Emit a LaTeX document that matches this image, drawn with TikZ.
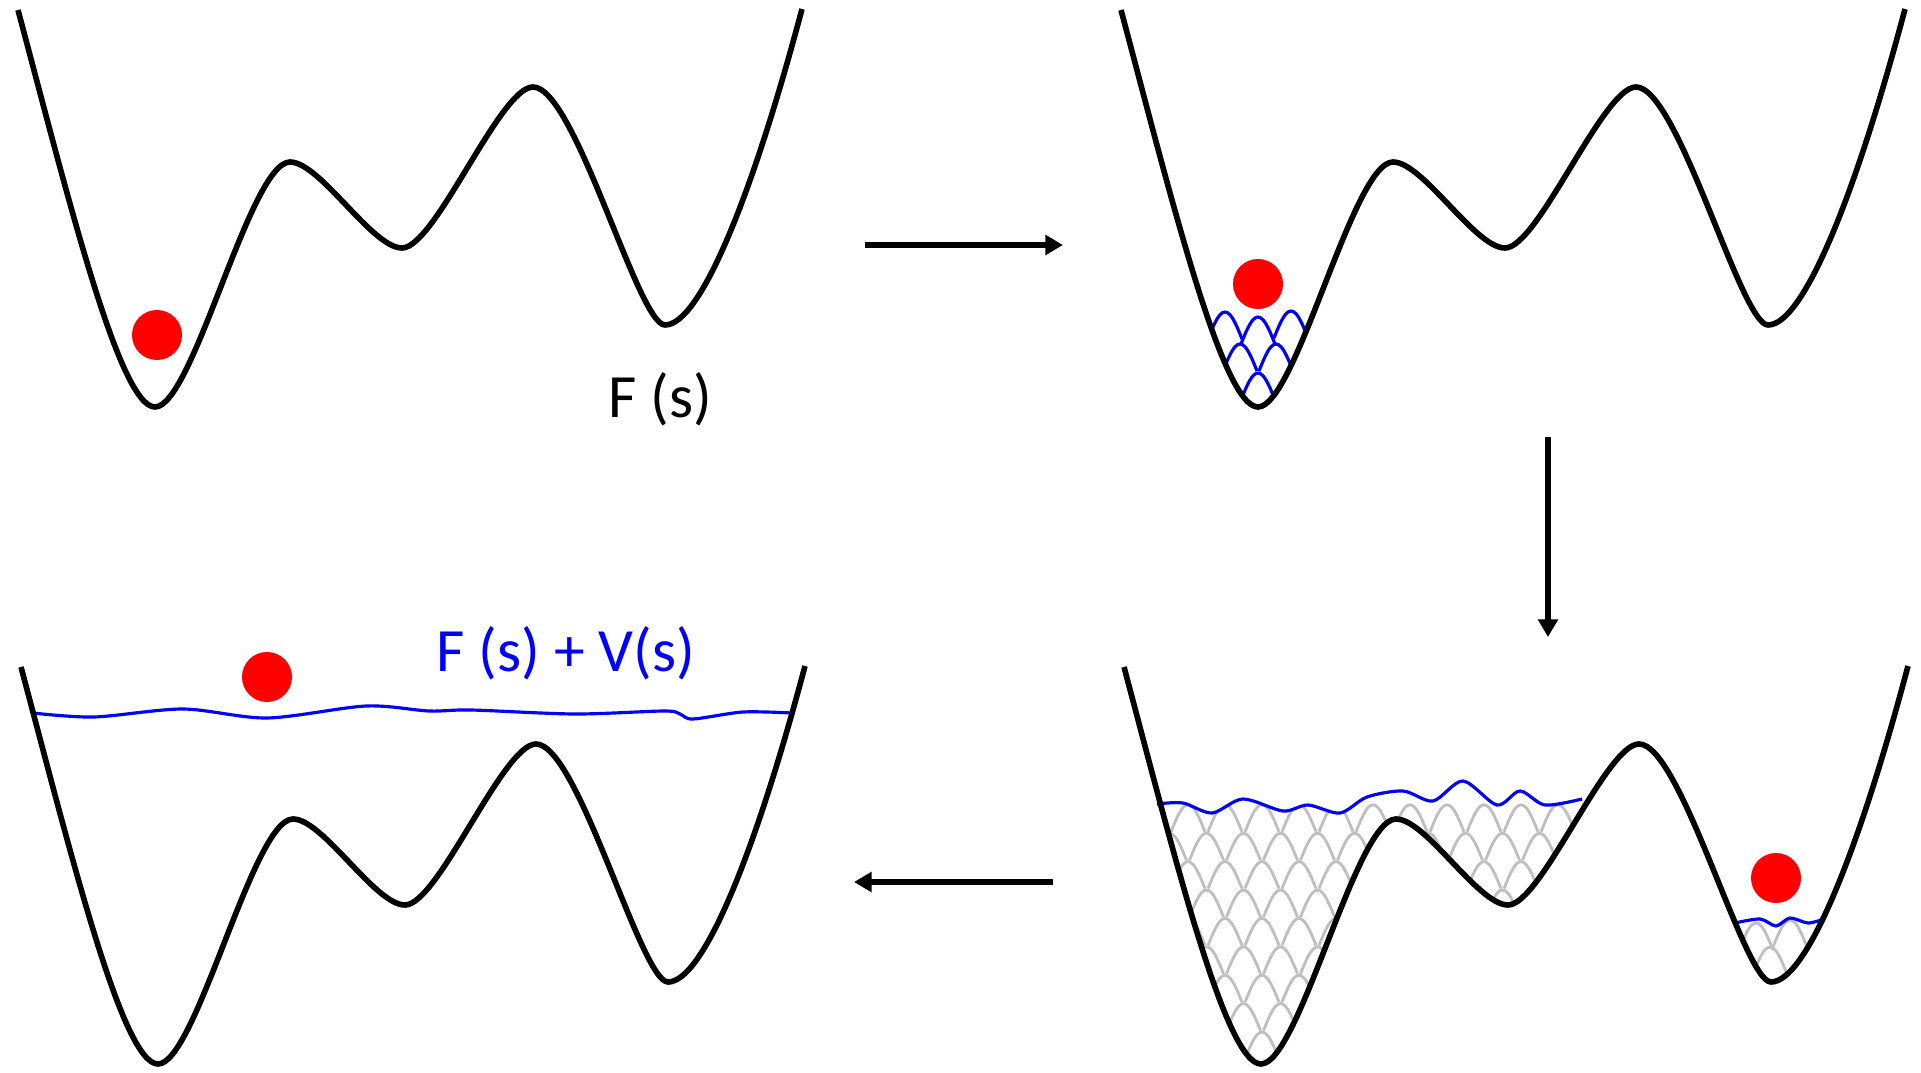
\documentclass[tikz,border=0pt]{standalone}
\usepackage{fontspec}
\setmainfont{Carlito}
\usepackage{xcolor}
\usepackage{tikz}
\usetikzlibrary{arrows.meta}

\newcommand{\wellpath}{(18,10) .. controls (70,205) and (120,407) .. (155,407)
  .. controls (193,407) and (250,162) .. (290,162)
  .. controls (320,162) and (372,248) .. (402,248)
  .. controls (435,248) and (500,87) .. (533,87)
  .. controls (575,87) and (638,325) .. (665,325)
  .. controls (700,325) and (752,197) .. (802,9)}

\begin{document}
\begin{tikzpicture}[x=0.01cm, y=-0.01cm,
  well/.style={line width=1.6pt, line join=round},
  bias/.style={blue, line width=0.9pt},
  hillgray/.style={black!25, line width=0.8pt},
  ball/.style={circle, fill=red, inner sep=0pt, minimum size=0.5cm},
  flow/.style={line width=1.6pt, -{Triangle[length=5pt, width=5.5pt]}},
  lbl/.style={font=\fontsize{17.5}{20}\selectfont},
  hill/.pic={\draw plot[domain=-17:17, samples=15, smooth] (\x,{27*(1-cos(90*\x/17))});}]
\useasboundingbox (0,0) rectangle (1921,1073);

% top left: the bare free energy
\draw[well] \wellpath;
\node[ball] (ball1) at (157,335) {};
\node[lbl, anchor=base] (fs) at (660,417) {F (s)};

% top right: first hills in the deep well
\begin{scope}[shift={(1103,0)}]
  \begin{scope}
    \clip \wellpath -- (802,-60) -- (18,-60) -- cycle;
    \foreach \hx/\hy in {122/312, 155/317, 188/311, 137/344, 173/344, 155/373}
      \pic[bias] at (\hx,\hy) {hill};
  \end{scope}
  \draw[well] \wellpath;
  \node[ball] (ball2) at (155,284) {};
\end{scope}

% bottom right: two wells filled
\begin{scope}[shift={(1106,657)}]
  \begin{scope}
    \clip \wellpath -- (802,-60) -- (18,-60) -- cycle;
    \clip plot[smooth] coordinates {(51,147) (77,146) (106,156) (137,142) (177,154) (202,148) (234,156) (261,140) (297,134) (327,144) (357,124) (391,148) (414,134) (439,148) (476,142)} -- (476,420) -- (51,420) -- cycle;
    \foreach \k in {0,...,8}
      \foreach \j in {-9,...,10}
        \pic[hillgray] at ({156+37*(\j+\k/2)},{375-28.4*\k}) {hill};
  \end{scope}
  \begin{scope}
    \clip \wellpath -- (802,-60) -- (18,-60) -- cycle;
    \clip plot[smooth] coordinates {(629,266) (654,262) (670,269) (684,261) (702,266) (718,262)} -- (718,420) -- (629,420) -- cycle;
    \foreach \hx/\hy in {664/290, 650/266, 684/263}
      \pic[hillgray] at (\hx,\hy) {hill};
  \end{scope}
  \draw[bias] plot[smooth] coordinates {(51,147) (77,146) (106,156) (137,142) (177,154) (202,148) (234,156) (261,140) (297,134) (327,144) (357,124) (391,148) (414,134) (439,148) (476,142)};
  \draw[bias] plot[smooth] coordinates {(629,266) (654,262) (670,269) (684,261) (702,266) (718,262)};
  \draw[well] \wellpath;
  \node[ball] (ball3) at (670,221) {};
\end{scope}

% bottom left: flat biased landscape
\begin{scope}[shift={(3,657)}]
  \draw[bias] plot[smooth] coordinates {(30,56) (91,60) (180,52) (264,61) (363,49) (426,54) (468,53) (572,57) (661,54) (677,57) (690,62) (740,55) (789,56)};
  \draw[well] \wellpath;
  \node[ball] (ball4) at (264,20) {};
\end{scope}
\node[lbl, blue, anchor=base] (fsv) at (566,671) {F (s) + V(s)};

% arrows between the stages
\coordinate (go1) at (865,245);
\coordinate (to1) at (1063,245);
\coordinate (go2) at (1548,437);
\coordinate (to2) at (1548,637);
\coordinate (go3) at (1053,882);
\coordinate (to3) at (854,882);
\draw[flow] (go1) -- (to1);
\draw[flow] (go2) -- (to2);
\draw[flow] (go3) -- (to3);
\end{tikzpicture}
\end{document}
